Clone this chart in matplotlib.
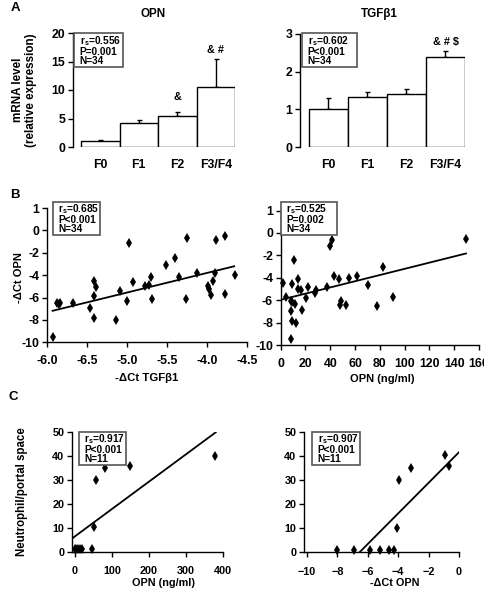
import matplotlib
matplotlib.use("Agg")
import matplotlib.pyplot as plt
from matplotlib.patches import Rectangle
import numpy as np

plt.rcParams['font.family'] = ['Liberation Sans', 'DejaVu Sans']
plt.rcParams['font.weight'] = 'bold'
plt.rcParams['mathtext.fontset'] = 'custom'
plt.rcParams['mathtext.rm'] = 'Liberation Sans:bold'
plt.rcParams['mathtext.bf'] = 'Liberation Sans:bold'
plt.rcParams['mathtext.it'] = 'Liberation Sans:bold'

# ---------------- data ----------------
stages = ['F0', 'F1', 'F2', 'F3/F4']
opn_mrna = [1.0, 4.2, 5.5, 10.6]
opn_err = [0.3, 0.5, 0.7, 4.9]
opn_marks = ['', '', '&', '& #']
opn_mark_y = [0, 0, 8.8, 17.0]
tgf_mrna = [1.0, 1.32, 1.4, 2.4]
tgf_err = [0.3, 0.13, 0.13, 0.15]
tgf_marks = ['', '', '', '& # $']
tgf_mark_y = [0, 0, 0, 2.78]

# B left: -dCt TGFb1 vs -dCt OPN
b1_x = [-5.93, -5.87, -5.84, -5.85, -5.68, -5.46, -5.41, -5.41, -5.39, -5.41, -5.14,
        -5.09, -5.00, -4.98, -4.93, -4.78, -4.73, -4.70, -4.69, -4.51, -4.40, -4.35,
        -4.25, -4.26, -4.12, -3.99, -3.98, -3.95, -3.93, -3.90, -3.89, -3.78, -3.77, -3.65]
b1_y = [-9.5, -6.5, -6.45, -6.6, -6.5, -6.9, -5.85, -4.55, -5.1, -7.8, -8.0,
        -5.4, -6.3, -1.1, -4.6, -5.0, -4.85, -4.15, -6.15, -3.05, -2.5, -4.2,
        -0.65, -6.1, -3.8, -4.95, -5.2, -5.8, -4.55, -3.85, -0.85, -5.7, -0.5, -4.0]
b1_xticks = [-6.0, -5.5, -5.0, -4.5, -4.0, -3.5]
b1_xticklabels = ['-6.0', '-6.5', '-5.0', '-5.5', '-4.0', '-4.5']
b_yticks = [-10, -8, -6, -4, -2, 0, 2]
b_yticklabels = ['-10', '-8', '-6', '-4', '-2', '0', '1']
b1_fit_x = [-5.93, -3.66]
b1_fit_slope, b1_fit_icpt = 1.753, 3.21
b1_stats = ['0.685', 'P<0.001', 'N=34']

# B right: OPN (ng/ml) vs -dCt OPN
b2_x = [1.6, 4.0, 8.3, 8.6, 8.9, 8.9, 8.3, 10.7, 11.5, 12.3, 13.7, 14.2, 16.1, 16.9,
        20.4, 22.3, 27.7, 28.2, 37.1, 39.8, 41.4, 43.3, 46.8, 47.8, 48.4, 52.7, 55.4,
        61.3, 70.2, 77.9, 82.5, 90.4, 149.3, 9.5]
b2_y = [-4.5, -5.7, -6.1, -7.0, -4.6, -7.9, -9.5, -2.4, -6.3, -8.0, -4.1, -5.0, -5.1, -6.9,
        -5.8, -4.85, -5.4, -5.1, -4.85, -1.15, -0.6, -3.85, -4.15, -6.45, -6.05, -6.45, -4.0,
        -3.8, -4.65, -6.5, -3.05, -5.7, -0.5, -6.2]
b2_fit_x = [1.6, 149.5]
b2_fit_slope, b2_fit_icpt = 0.02766, -5.97
b2_stats = ['0.525', 'P=0.002', 'N=34']

# C left: OPN (ng/ml) vs neutrophil/portal space
c1_x = [0, 4, 9, 13, 18, 46, 52.7, 58, 80, 148, 379]
c1_y = [1, 1, 1, 1, 1, 1, 10.5, 30, 35, 36, 40]
c1_fit_x = [-8, 381]
c1_fit_slope, c1_fit_icpt = 0.1143, 6.43
c1_stats = ['0.917', 'P<0.001', 'N=11']

# C right: -dCt OPN vs neutrophil/portal space
c2_x = [-8.03, -6.93, -5.88, -5.2, -4.63, -4.26, -4.06, -3.93, -3.16, -0.92, -0.64]
c2_y = [1, 1, 1, 1, 1, 1, 10.2, 30, 35.2, 40.5, 36]
c2_fit_x = [-6.55, 0.0]
c2_fit_slope, c2_fit_icpt = 6.37, 41.7
c2_stats = ['0.907', 'P<0.001', 'N=11']

# ---------------- layout ----------------
W, H = 484, 593
fig = plt.figure(figsize=(W / 100, H / 100), dpi=100)
fig.patch.set_facecolor('white')


def add_ax(x0, y0, x1, y1):
    return fig.add_axes([x0 / W, 1 - y1 / H, (x1 - x0) / W, (y1 - y0) / H])


def style(ax, fs, bottom=True):
    for s in ['top', 'right']:
        ax.spines[s].set_visible(False)
    ax.spines['left'].set_linewidth(1.0)
    ax.spines['bottom'].set_linewidth(1.0)
    if not bottom:
        ax.spines['bottom'].set_visible(False)
    ax.tick_params(direction='out', length=3.5, width=1.0, labelsize=fs, pad=2)
    for lab in ax.get_xticklabels() + ax.get_yticklabels():
        lab.set_fontweight('bold')


def ftext(x, y, s, fs, **kw):
    kw.setdefault('fontweight', 'bold')
    return fig.text(x / W, 1 - y / H, s, fontsize=fs, **kw)


def statbox(x0, y0, x1, y1, stats):
    fig.patches.append(Rectangle((x0 / W, 1 - y1 / H), (x1 - x0) / W, (y1 - y0) / H,
                                 transform=fig.transFigure, fill=True, fc='white',
                                 ec='#555555', lw=1.2, zorder=5))
    txt = r'r$_\mathrm{s}$=' + stats[0] + '\n' + stats[1] + '\n' + stats[2]
    ftext(x0 + 5.5, y1 - 1.2, txt, 7.3, va='bottom', ha='left', linespacing=0.86, zorder=6)


def bars(ax, vals, errs, marks, mark_y, ymax, yticks):
    xs = np.arange(len(vals))
    ax.bar(xs, vals, width=1.0, color='white', edgecolor='black', linewidth=1.0, zorder=2)
    ax.errorbar(xs, vals, yerr=[np.zeros(len(vals)), errs], fmt='none', ecolor='black',
                elinewidth=1.0, capsize=1.8, capthick=1.0, zorder=1)
    for x, m, y in zip(xs, marks, mark_y):
        if m:
            ax.text(x, y, m, ha='center', va='center', fontsize=7.8, fontweight='bold')
    ax.set_ylim(0, ymax)
    ax.set_yticks(yticks)
    ax.set_xticks(xs)
    ax.set_xticklabels(stages)
    style(ax, 8.8, bottom=False)
    ax.tick_params(axis='x', length=0, pad=9)


# ---- Panel A ----
axA1 = add_ax(73, 33, 235, 147)
bars(axA1, opn_mrna, opn_err, opn_marks, opn_mark_y, 20, [0, 5, 10, 15, 20])
axA1.set_xlim(-0.71, 3.5)
axA2 = add_ax(300, 34, 465, 147)
bars(axA2, tgf_mrna, tgf_err, tgf_marks, tgf_mark_y, 3, [0, 1, 2, 3])
axA2.set_xlim(-0.73, 3.5)
ftext(153, 14, 'OPN', 8.4, ha='center', va='center')
ftext(379, 14, 'TGFβ1', 8.4, ha='center', va='center')
ftext(18, 90, 'mRNA level', 8.4, rotation=90, ha='center', va='center')
ftext(31, 90, '(relative expression)', 8.4, rotation=90, ha='center', va='center')
ftext(15, 8, 'A', 9.5, ha='center', va='center')
statbox(74, 33, 123, 67, ['0.556', 'P=0.001', 'N=34'])
statbox(302, 33, 357, 67, ['0.602', 'P<0.001', 'N=34'])


def scatter(ax, x, y, fx, slope, icpt):
    ax.plot(x, y, linestyle='none', marker='d', markersize=5.2, color='black',
            markeredgewidth=0, zorder=3, clip_on=False)
    fx = np.array(fx)
    ax.plot(fx, icpt + slope * fx, color='black', lw=1.3, zorder=2)


# ---- Panel B ----
axB1 = add_ax(47, 208, 247, 342.3)
scatter(axB1, b1_x, b1_y, b1_fit_x, b1_fit_slope, b1_fit_icpt)
axB1.set_xlim(-6.0, -3.5)
axB1.set_ylim(-10, 2)
axB1.set_xticks(b1_xticks)
axB1.set_xticklabels(b1_xticklabels)
axB1.set_yticks(b_yticks)
axB1.set_yticklabels(b_yticklabels)
style(axB1, 8.8)
axB1.tick_params(axis='x', pad=6)

axB2 = add_ax(280.7, 210.5, 479, 345)
scatter(axB2, b2_x, b2_y, b2_fit_x, b2_fit_slope, b2_fit_icpt)
axB2.set_xlim(0, 160)
axB2.set_ylim(-10, 2)
axB2.set_xticks(np.arange(0, 161, 20))
axB2.set_yticks(b_yticks)
axB2.set_yticklabels(b_yticklabels)
style(axB2, 8.8)
axB2.tick_params(axis='x', pad=6)

ftext(19, 278, '-ΔCt OPN', 8.0, rotation=90, ha='center', va='center')
ftext(147, 378, '-ΔCt TGFβ1', 8.2, ha='center', va='center')
ftext(382, 379, 'OPN (ng/ml)', 8.0, ha='center', va='center')
ftext(15, 195, 'B', 9.5, ha='center', va='center')
statbox(53, 202, 100, 235, b1_stats)
statbox(281, 202, 337, 235, b2_stats)

# ---- Panel C ----
axC1 = add_ax(72, 432.3, 222.7, 551.7)
scatter(axC1, c1_x, c1_y, c1_fit_x, c1_fit_slope, c1_fit_icpt)
axC1.set_xlim(-8, 400)
axC1.set_ylim(0, 50)
axC1.set_xticks([0, 100, 200, 300, 400])
axC1.set_yticks([0, 10, 20, 30, 40, 50])
style(axC1, 7.8)
axC1.tick_params(axis='x', pad=7)

axC2 = add_ax(304, 432.3, 459, 552.3)
scatter(axC2, c2_x, c2_y, c2_fit_x, c2_fit_slope, c2_fit_icpt)
axC2.set_xlim(-10.2, 0)
axC2.set_ylim(0, 50)
axC2.set_xticks([-10, -8, -6, -4, -2, 0])
axC2.set_yticks([0, 10, 20, 30, 40, 50])
style(axC2, 7.8)
axC2.tick_params(axis='x', pad=7)

ftext(22, 492, 'Neutrophil/portal space', 8.3, rotation=90, ha='center', va='center')
ftext(163, 583, 'OPN (ng/ml)', 7.8, ha='center', va='center')
ftext(395, 583, '-ΔCt OPN', 7.8, ha='center', va='center')
ftext(13, 397, 'C', 9.5, ha='center', va='center')
statbox(79, 432, 126, 465, c1_stats)
statbox(312, 432, 360, 465, c2_stats)

fig.savefig('out.png', dpi=100, facecolor='white')
